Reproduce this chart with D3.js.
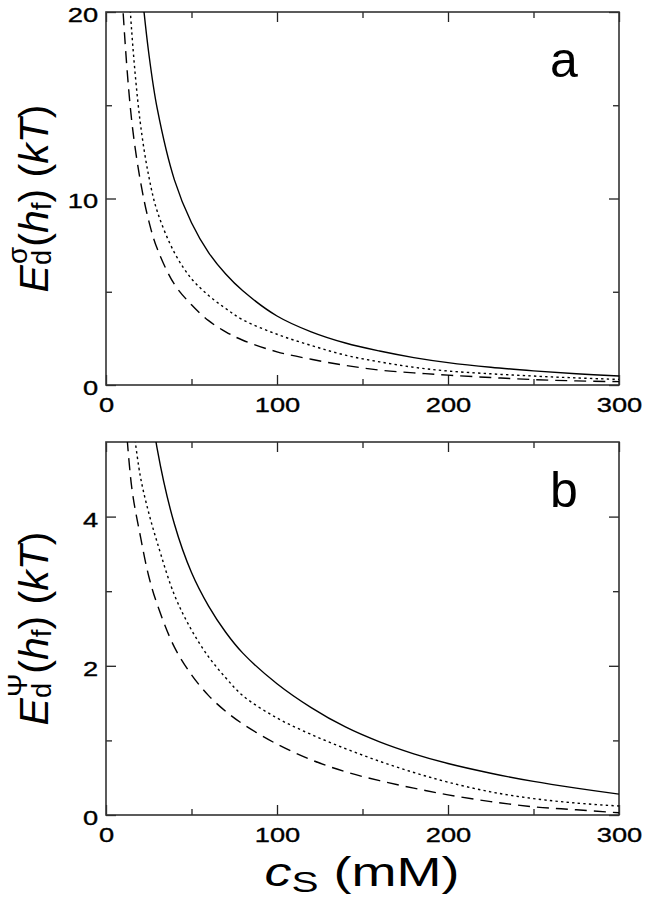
<!DOCTYPE html>
<head>
  <meta charset="utf-8" />
  <script src="https://d3js.org/d3.v7.min.js"></script>
  <style>
    body { margin: 0; background: #fff; }
    svg { font-family: "Liberation Sans", Arial, Helvetica, sans-serif; }
  </style>
</head>
<body>
  <svg width="645" height="900"></svg>
  <script>
    // panel a : E_d^sigma(h_f)
    var csSolidA = [20, 25, 30, 40, 50, 60, 70, 80, 100, 120, 140, 160, 180, 200, 225, 250, 275, 300];
    var solidA = [22, 17.8, 14.8, 11.0, 8.7, 7.1, 5.95, 5.05, 3.7, 2.85, 2.25, 1.82, 1.47, 1.2, 0.95, 0.76, 0.6, 0.48];
    var csDotA = [12, 15, 20, 25, 30, 40, 50, 60, 70, 80, 100, 120, 140, 160, 180, 200, 225, 250, 275, 300];
    var dotA = [24, 19.0, 14.1, 11.2, 9.3, 7.1, 5.7, 4.8, 4.1, 3.5, 2.72, 2.12, 1.6, 1.24, 0.95, 0.75, 0.6, 0.48, 0.38, 0.3];
    var csDashA = [8, 10, 15, 20, 25, 30, 40, 50, 60, 70, 80, 100, 120, 140, 160, 180, 200, 225, 250, 275, 300];
    var dashA = [24, 20, 14.2, 11.0, 8.8, 7.3, 5.4, 4.3, 3.45, 2.85, 2.4, 1.78, 1.38, 1.05, 0.8, 0.65, 0.53, 0.4, 0.29, 0.22, 0.18];

    // panel b : E_d^psi(h_f)
    var csSolidB = [25, 30, 40, 50, 60, 70, 80, 100, 120, 140, 160, 180, 200, 225, 250, 275, 300];
    var solidB = [5.75, 4.9, 3.9, 3.25, 2.8, 2.45, 2.17, 1.76, 1.44, 1.18, 0.98, 0.82, 0.69, 0.56, 0.45, 0.36, 0.28];
    var csDotB = [15, 20, 25, 30, 40, 50, 60, 70, 80, 100, 120, 140, 160, 180, 200, 225, 250, 275, 300];
    var dotB = [5.4, 4.55, 4.05, 3.65, 2.95, 2.48, 2.12, 1.84, 1.6, 1.3, 1.08, 0.89, 0.72, 0.57, 0.44, 0.31, 0.22, 0.16, 0.12];
    var csDashB = [10, 15, 20, 25, 30, 40, 50, 60, 70, 80, 100, 120, 140, 160, 180, 200, 225, 250, 275, 300];
    var dashB = [5.8, 4.4, 3.75, 3.2, 2.82, 2.25, 1.88, 1.6, 1.39, 1.22, 0.95, 0.74, 0.58, 0.46, 0.36, 0.27, 0.18, 0.11, 0.07, 0.03];

    var xTicks = [0, 100, 200, 300];
    var xMinor = [50, 150, 250];
    var yTicksA = [0, 10, 20], yMinorA = [5, 15];
    var yTicksB = [0, 2, 4], yMinorB = [1, 3];

    var svg = d3.select("svg");
    var x = d3.scaleLinear().domain([0, 300]).range([106, 619]);
    var stretch = 1.3; // the original's lettering is wide

    function panel(id, top, bottom, ymax, yTicks, yMinor, series, letter, sup) {
      var y = d3.scaleLinear().domain([0, ymax]).range([bottom, top]);
      var g = svg.append("g");

      g.append("clipPath").attr("id", "clip" + id)
        .append("rect")
        .attr("x", x(0)).attr("y", y(ymax))
        .attr("width", x(300) - x(0)).attr("height", y(0) - y(ymax));

      // minor ticks, all four sides
      g.append("g").attr("transform", "translate(0," + bottom + ")")
        .call(d3.axisBottom(x).tickValues(xMinor).tickSizeInner(-6).tickSizeOuter(0).tickFormat(""));
      g.append("g").attr("transform", "translate(0," + top + ")")
        .call(d3.axisTop(x).tickValues(xMinor).tickSizeInner(-6).tickSizeOuter(0).tickFormat(""));
      g.append("g").attr("transform", "translate(" + x(0) + ",0)")
        .call(d3.axisLeft(y).tickValues(yMinor).tickSizeInner(-6).tickSizeOuter(0).tickFormat(""));
      g.append("g").attr("transform", "translate(" + x(300) + ",0)")
        .call(d3.axisRight(y).tickValues(yMinor).tickSizeInner(-6).tickSizeOuter(0).tickFormat(""));

      // major ticks
      var xb = g.append("g").attr("transform", "translate(0," + bottom + ")")
        .call(d3.axisBottom(x).tickValues(xTicks).tickSizeInner(-10).tickSizeOuter(0)
          .tickPadding(12).tickFormat(d3.format("d")));
      g.append("g").attr("transform", "translate(0," + top + ")")
        .call(d3.axisTop(x).tickValues(xTicks).tickSizeInner(-10).tickSizeOuter(0).tickFormat(""));
      var yl = g.append("g").attr("transform", "translate(" + x(0) + ",0)")
        .call(d3.axisLeft(y).tickValues(yTicks).tickSizeInner(-10).tickSizeOuter(0)
          .tickPadding(6).tickFormat(d3.format("d")));
      g.append("g").attr("transform", "translate(" + x(300) + ",0)")
        .call(d3.axisRight(y).tickValues(yTicks).tickSizeInner(-10).tickSizeOuter(0).tickFormat(""));

      g.selectAll(".domain").remove();
      g.selectAll(".tick line").attr("stroke", "#222").attr("stroke-width", 1.3);
      [xb, yl].forEach(function (ax) {
        ax.attr("font-family", null).attr("font-size", null);
        ax.selectAll("text")
          .attr("font-size", 21)
          .attr("fill", "#000")
          .attr("stroke", "#000").attr("stroke-width", 0.35)
          .attr("transform", "scale(" + stretch + ",1)");
      });
      yl.selectAll("text").attr("dy", "0.45em");

      // frame
      g.append("rect")
        .attr("x", x(0)).attr("y", top)
        .attr("width", x(300) - x(0)).attr("height", bottom - top)
        .attr("fill", "none").attr("stroke", "#333").attr("stroke-width", 1.6);

      var line = d3.line()
        .x(function (d) { return x(d[0]); })
        .y(function (d) { return y(d[1]); })
        .curve(d3.curveCatmullRom.alpha(0.5));

      var styles = [null, "2.4,3.2", "12,7"];
      series.forEach(function (s, i) {
        var pts = s[0].map(function (c, j) { return [c, s[1][j]]; });
        g.append("path")
          .attr("clip-path", "url(#clip" + id + ")")
          .attr("d", line(pts))
          .attr("fill", "none")
          .attr("stroke", "#000")
          .attr("stroke-width", 1.4)
          .attr("stroke-dasharray", styles[i]);
      });

      // panel letter
      g.append("text")
        .attr("x", 550).attr("y", top + 65)
        .attr("font-size", 50)
        .text(letter);

      // y title, rotated
      var cy = (top + bottom) / 2;
      var t = g.append("text")
        .attr("transform", "translate(48," + cy + ") rotate(-90)")
        .attr("text-anchor", "middle")
        .attr("font-size", 41);
      t.append("tspan").attr("font-style", "italic").text("E");
      t.append("tspan").attr("font-size", 27).attr("dy", 3).text("d");
      t.append("tspan").attr("font-size", 28).attr("dx", -14).attr("dy", -24).text(sup);
      t.append("tspan").attr("dy", 21).text("(");
      t.append("tspan").attr("font-style", "italic").text("h");
      t.append("tspan").attr("font-size", 28).attr("dy", 3).text("f");
      t.append("tspan").attr("dy", -3).text(") (");
      t.append("tspan").attr("font-style", "italic").text("kT");
      t.append("tspan").text(")");
    }

    panel("a", 12, 385, 20, yTicksA, yMinorA,
      [[csSolidA, solidA], [csDotA, dotA], [csDashA, dashA]], "a", "\u03c3");
    panel("b", 442, 815, 5, yTicksB, yMinorB,
      [[csSolidB, solidB], [csDotB, dotB], [csDashB, dashB]], "b", "\u03a8");

    // x title, widened like the original lettering
    var xt = svg.append("text")
      .attr("transform", "translate(362,886) scale(1.35,1)")
      .attr("text-anchor", "middle")
      .attr("font-size", 40);
    xt.append("tspan").attr("font-style", "italic").text("c");
    xt.append("tspan").attr("font-size", 30).attr("dy", 6).text("S");
    xt.append("tspan").attr("dy", -6).text(" (mM)");
  </script>
</body>
